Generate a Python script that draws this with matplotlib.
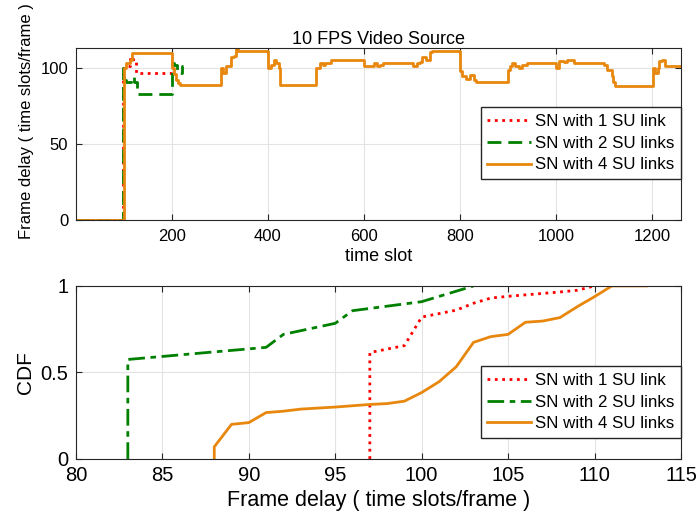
import matplotlib
matplotlib.use('Agg')
import matplotlib.pyplot as plt

plt.rcParams['font.family'] = ['Liberation Sans', 'DejaVu Sans']

# frame delay over time (breakpoints, held until next point)
t_4su = [1, 101, 106, 113, 118, 200, 205, 210, 214, 218, 302, 307, 313, 324, 330, 333, 338,
         400, 407, 413, 418, 423, 426, 501, 508, 515, 520, 532, 601, 622, 628, 634, 639,
         703, 710, 716, 722, 730, 737, 742, 800, 804, 812, 822, 829, 833, 900, 905, 908,
         915, 922, 930, 940, 1000, 1007, 1016, 1022, 1030, 1038, 1100, 1106, 1116, 1119,
         1123, 1201, 1206, 1212, 1215, 1220, 1226, 1260]
d_4su = [0, 100, 103, 105.5, 110, 100, 96, 92, 90, 89, 100, 97, 101, 107, 108, 112.5, 111,
         100, 102, 105.5, 103, 100, 89, 100, 103, 102, 103.5, 105.5, 101, 103, 101, 102, 103,
         101, 103, 104, 107, 105, 110.5, 111, 98, 95, 93, 95.5, 92, 91, 98.5, 101, 103.5,
         101, 100, 102, 103.5, 100, 104.5, 104, 105, 105.5, 103.5, 102, 98.5, 95, 91,
         88, 100, 96.5, 100, 104.5, 105.5, 101, 101]

t_1su = [1, 99, 107, 114, 120, 126, 200]
d_1su = [0, 100, 101, 107, 104, 97, 97]

t_2su = [1, 98, 101, 106, 116, 122, 127, 200, 205, 211, 218, 222, 223]
d_2su = [0, 100, 92, 91, 94, 91, 83, 103, 102, 96.5, 97, 101.5, 101.5]

# empirical CDFs of frame delay
cdf1_x = [97, 97, 99, 100, 102, 103, 104, 105, 108, 109, 110]
cdf1_y = [0, 0.615, 0.655, 0.82, 0.86, 0.90, 0.93, 0.94, 0.965, 0.975, 1.0]
cdf2_x = [83, 83, 91, 92, 95, 96, 100, 103]
cdf2_y = [0, 0.575, 0.645, 0.72, 0.784, 0.857, 0.909, 1.0]
cdf4_x = [88, 88, 89, 90, 91, 92, 93, 95, 97, 98, 99, 100, 101, 102, 103, 104, 105, 106,
          107, 108, 109, 110, 111, 113]
cdf4_y = [0, 0.07, 0.2, 0.21, 0.268, 0.276, 0.288, 0.3, 0.315, 0.32, 0.334, 0.384, 0.446,
          0.533, 0.674, 0.707, 0.72, 0.79, 0.797, 0.817, 0.88, 0.938, 1.0, 1.0]

labels = ['SN with 1 SU link', 'SN with 2 SU links', 'SN with 4 SU links']
c1 = '#ff0000'
c2 = '#008000'
c4 = '#e8870e'

fig = plt.figure(figsize=(6.97, 5.18), dpi=100)
ax1 = fig.add_axes([0.109, 0.575, 0.868, 0.332])
ax2 = fig.add_axes([0.109, 0.114, 0.868, 0.334])

ax1.plot(t_1su, d_1su, ':', color=c1, lw=2, drawstyle='steps-post', label=labels[0])
ax1.plot(t_2su, d_2su, linestyle=(0, (5, 2.5)), color=c2, lw=2, drawstyle='steps-post', label=labels[1])
ax1.plot(t_4su, d_4su, '-', color=c4, lw=2, drawstyle='steps-post', label=labels[2])
ax1.set_xlim(1, 1260)
ax1.set_ylim(0, 113)
ax1.set_xticks([200, 400, 600, 800, 1000, 1200])
ax1.set_yticks([0, 50, 100])
ax1.set_title('10 FPS Video Source', fontsize=13, pad=3)
ax1.set_xlabel('time slot', fontsize=13, labelpad=3)
ax1.set_ylabel('Frame delay ( time slots/frame )', fontsize=12)
ax1.yaxis.set_label_coords(-0.069, 0.578)
ax1.tick_params(labelsize=12)
ax1.tick_params(axis='x', pad=6.5)

ax2.plot(cdf1_x, cdf1_y, ':', color=c1, lw=2, label=labels[0])
ax2.plot(cdf2_x, cdf2_y, linestyle=(0, (6, 2, 2, 2)), color=c2, lw=2, label=labels[1])
ax2.plot(cdf4_x, cdf4_y, '-', color=c4, lw=2, label=labels[2])
ax2.set_xlim(80, 115)
ax2.set_ylim(0, 1)
ax2.set_xticks(range(80, 116, 5))
ax2.set_yticks([0, 0.5, 1])
ax2.set_yticklabels(['0', '0.5', '1'])
ax2.set_xlabel('Frame delay ( time slots/frame )', fontsize=15.5, labelpad=4)
ax2.set_ylabel('CDF', fontsize=15)
ax2.yaxis.set_label_coords(-0.068, 0.5)
ax2.tick_params(labelsize=14.5)
ax2.tick_params(axis='x', pad=5)

for ax in (ax1, ax2):
    ax.grid(True, color='#e3e3e3', lw=0.8)
    ax.set_axisbelow(True)
    ax.tick_params(direction='in', top=True, right=True, color='#262626', length=4)
    ax.tick_params(axis='y', pad=5.5)
    for s in ax.spines.values():
        s.set_color('#262626')
        s.set_linewidth(0.8)

leg_kw = dict(loc='lower right', borderaxespad=0, fontsize=12.2, fancybox=False,
              edgecolor='#262626', framealpha=1, handlelength=2.55, handletextpad=0.25,
              borderpad=0.4, labelspacing=0.4)
ax1.legend(bbox_to_anchor=(1.0, 0.238), **leg_kw)
ax2.legend(bbox_to_anchor=(1.0, 0.12), **leg_kw)

fig.savefig('out.png', dpi=100)
